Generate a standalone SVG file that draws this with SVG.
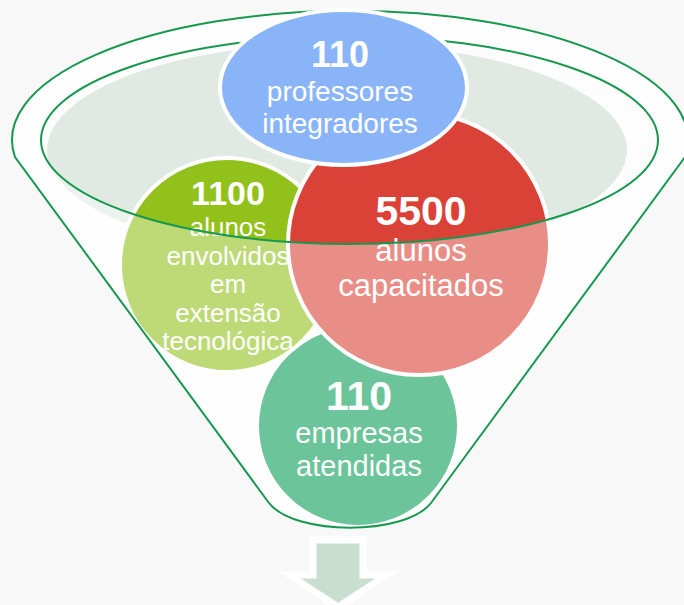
<svg xmlns="http://www.w3.org/2000/svg" width="684" height="605" viewBox="0 0 684 605">
<defs>
<style>
.t{font-family:"Liberation Sans",Arial,sans-serif;fill:#ffffff;text-anchor:middle}
.b{font-weight:bold}
.line{fill:none;stroke:#16994f;stroke-width:2}
.circ{stroke:#ffffff;stroke-width:4}
</style>
</defs>
<rect x="0" y="0" width="684" height="605" fill="#f8f8f8"/>
<g id="funnel-body">
<path d="M15,157 A338,129 0 1 1 685,157 L431,503 C405,536 295,536 269,503 Z" fill="#fdfdfd"/>
<ellipse cx="337" cy="150" rx="290" ry="107" fill="#e0eae3"/>
</g>
<g id="node-empresas">
<circle class="circ" cx="358" cy="426" r="101" fill="#0a9d58" stroke-width="3"/>
<text class="t b" x="359" y="410" font-size="41">110</text>
<text class="t" x="359" y="443" font-size="29">empresas</text>
<text class="t" x="359" y="476" font-size="29">atendidas</text>
</g>
<g id="node-extensao">
<circle class="circ" cx="227" cy="265" r="107" fill="#93c11c"/>
<text class="t b" x="228" y="205" font-size="34">1100</text>
<text class="t" x="228" y="236" font-size="26">alunos</text>
<text class="t" x="228" y="265" font-size="26">envolvidos</text>
<text class="t" x="228" y="293" font-size="26">em</text>
<text class="t" x="228" y="322" font-size="26">extensão</text>
<text class="t" x="228" y="350" font-size="26">tecnológica</text>
</g>
<g id="node-capacitados">
<circle class="circ" cx="419" cy="244" r="131" fill="#da4237"/>
<text class="t b" x="421" y="225" font-size="41">5500</text>
<text class="t" x="421" y="261" font-size="31">alunos</text>
<text class="t" x="421" y="296" font-size="31">capacitados</text>
</g>
<g id="funnel-front">
<path d="M15,157 A338,129 0 1 1 685,157 L431,503 C405,536 295,536 269,503 Z M41,140 A308.5,104 0 1 0 658,140 A308.5,104 0 1 0 41,140 Z" fill="#ffffff" fill-opacity="0.4" fill-rule="evenodd"/>
</g>
<g id="connectors">
<ellipse class="line" cx="349.5" cy="140" rx="308.5" ry="104"/>
<path class="line" d="M15,157 A338,129 0 1 1 685,157 L431,503 C405,536 295,536 269,503 Z"/>
</g>
<g id="node-professores">
<ellipse class="circ" cx="343.5" cy="87.5" rx="123.5" ry="77.5" fill="#8ab4f8"/>
<text class="t b" x="340" y="67" font-size="36">110</text>
<text class="t" x="340" y="101" font-size="28">professores</text>
<text class="t" x="340" y="133" font-size="28">integradores</text>
</g>
<g id="arrow">
<path d="M313,540 H363 V575 H387 L338,607 L289,575 H313 Z" fill="#c8dfd0" stroke="#ffffff" stroke-width="7" stroke-linejoin="miter"/>
</g>
</svg>
